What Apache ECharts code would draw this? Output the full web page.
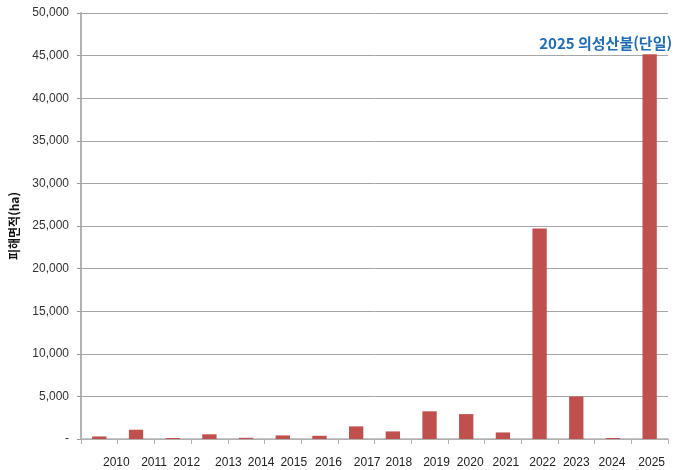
<!DOCTYPE html>
<html lang="ko">
<head>
    <meta charset="UTF-8">
    <script src="https://cdn.jsdelivr.net/npm/echarts@6/dist/echarts.min.js"></script>
    <style>
        html, body { margin: 0; padding: 0; background: #fff; }
        #main { width: 680px; height: 470px; }
    </style>
    <title>연도별 산불 피해면적</title>
</head>
<body>
    <div id="main"></div>
<script type="text/javascript">
    // 연도
    var years = ['2010', '2011', '2012', '2013', '2014', '2015', '2016', '2017',
                 '2018', '2019', '2020', '2021', '2022', '2023', '2024', '2025'];
    // 피해면적(ha) - 그림에서 읽은 값
    var areas = [300, 1090, 120, 550, 140, 420, 380, 1480,
                 890, 3250, 2920, 770, 24700, 4990, 120, 45157];
    var yTicks = [0, 5000, 10000, 15000, 20000, 25000, 30000, 35000, 40000, 45000, 50000];
    var noteText = '2025 의성산불(단일)';

    var font = 'Arial, "Liberation Sans", "Noto Sans CJK KR", sans-serif';

    // 원본 엑셀 차트처럼 연도 라벨이 막대보다 조금씩 오른쪽으로 밀려 있음 (px)
    var labelShift = [17, 18, 14, 19, 15, 11, 9, 11, 6, 7, 4, 3, 3, 0, -1, 2];
    var richLabels = {};
    labelShift.forEach(function (s, i) {
        richLabels['s' + i] = {
            color: '#222',
            fontSize: 12,
            fontFamily: font,
            padding: s >= 0 ? [0, 0, 0, s * 2] : [0, -s * 2, 0, 0]
        };
    });

    var chartDom = document.getElementById('main');
    var myChart = echarts.init(chartDom);
    var option;

    var barData = areas.map(function (v, i) {
        if (i === areas.length - 1) {
            return {
                value: v,
                label: {
                    show: true,
                    position: 'top',
                    offset: [-44, 2],
                    formatter: noteText,
                    color: '#1f6db5',
                    fontSize: 15,
                    fontWeight: 'bold',
                    fontFamily: '"Noto Sans CJK KR", sans-serif'
                }
            };
        }
        return v;
    });

    option = {
        animation: false,
        grid: {
            left: 78,
            right: 12,
            top: 13,
            bottom: 31
        },
        xAxis: {
            type: 'category',
            data: years,
            axisLine: { lineStyle: { color: '#b3b3b3', width: 1.5 } },
            axisTick: { show: true, length: 5, lineStyle: { color: '#b3b3b3' } },
            axisLabel: {
                interval: 0,
                margin: 18,
                color: '#222',
                fontSize: 12,
                fontFamily: font,
                formatter: function (v, i) {
                    return '{s' + i + '|' + v + '}';
                },
                rich: richLabels
            }
        },
        yAxis: {
            type: 'value',
            min: yTicks[0],
            max: yTicks[yTicks.length - 1],
            interval: yTicks[1] - yTicks[0],
            name: '피해면적(ha)',
            nameLocation: 'middle',
            nameGap: 61,
            nameTextStyle: {
                color: '#111',
                fontSize: 12,
                fontWeight: 'bold',
                fontFamily: '"Noto Sans CJK KR", sans-serif'
            },
            axisLine: { show: true, lineStyle: { color: '#b3b3b3', width: 2 } },
            axisTick: { show: true, inside: false, length: 4, lineStyle: { color: '#999' } },
            axisLabel: {
                margin: 12,
                color: '#333',
                fontSize: 12,
                fontFamily: font,
                formatter: function (v) {
                    if (v === 0) return '-';
                    return v.toLocaleString('en-US');
                }
            },
            splitLine: { lineStyle: { color: '#a6a6a6', width: 1 } }
        },
        series: [
            {
                name: '피해면적',
                type: 'bar',
                data: barData,
                barWidth: '39%',
                itemStyle: { color: '#c0504d' }
            }
        ]
    };
    option && myChart.setOption(option);
</script>
</body>
</html>
